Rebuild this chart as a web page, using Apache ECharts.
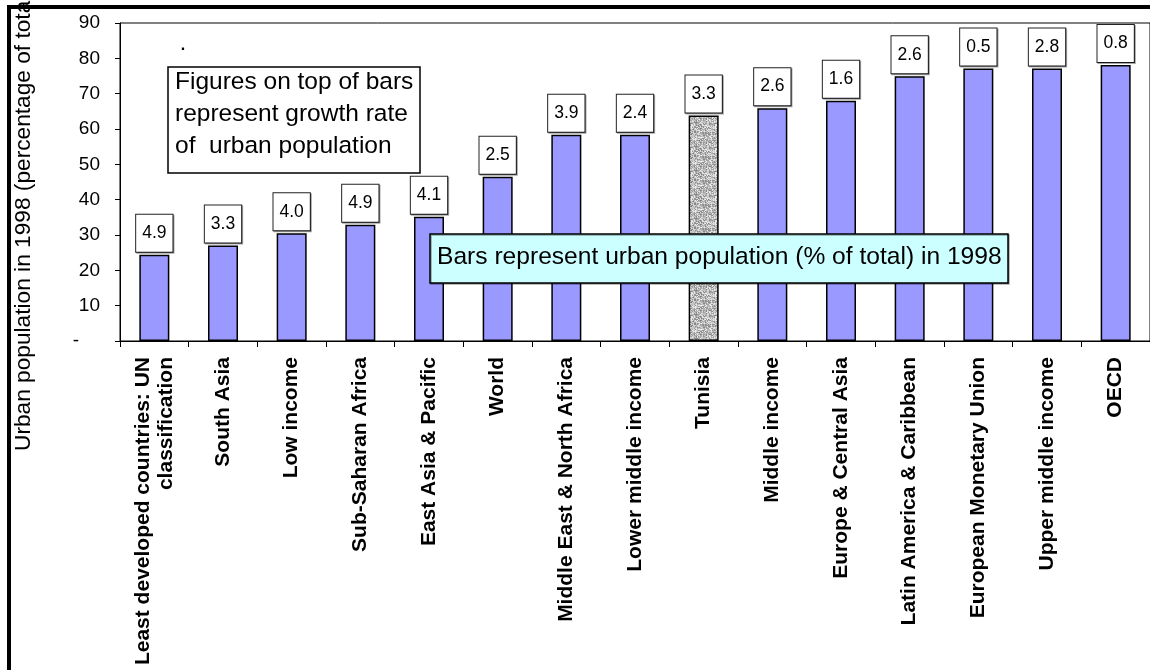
<!DOCTYPE html>
<html>
<head>
<meta charset="utf-8">
<script src="https://cdn.jsdelivr.net/npm/echarts@6/dist/echarts.min.js"></script>
<style>
html,body{margin:0;padding:0;background:#fff;}
#chart{width:1150px;height:670px;}
</style>
</head>
<body>
<div id="chart"></div>
<script>
var categories = [
  'Least developed countries: UN\nclassification',
  'South Asia',
  'Low income',
  'Sub-Saharan Africa',
  'East Asia & Pacific',
  'World',
  'Middle East & North Africa',
  'Lower middle income',
  'Tunisia',
  'Middle income',
  'Europe & Central Asia',
  'Latin America & Caribbean',
  'European Monetary Union',
  'Upper middle income',
  'OECD'
];
var urbanPct = [24.4, 27.0, 30.5, 32.9, 35.2, 46.5, 58.4, 58.4, 63.8, 65.9, 68.0, 74.9, 77.1, 77.1, 78.1];
var growthRate = [4.9, 3.3, 4.0, 4.9, 4.1, 2.5, 3.9, 2.4, 3.3, 2.6, 1.6, 2.6, 0.5, 2.8, 0.8];
var highlightCategory = 'Tunisia';
var yAxisTitle = 'Urban population in 1998 (percentage of total)';
var noteGrowth = 'Figures on top of bars\nrepresent growth rate\nof  urban population';
var noteBars = 'Bars represent urban population (% of total) in 1998';

// deterministic speckled gray texture for the highlighted bar
function makeTexture() {
  var c = document.createElement('canvas');
  c.width = 24; c.height = 24;
  var ctx = c.getContext('2d');
  for (var y = 0; y < 24; y++) {
    for (var x = 0; x < 24; x++) {
      var h = Math.sin(x * 12.9898 + y * 78.233) * 43758.5453;
      h = h - Math.floor(h);
      var g = Math.round(130 + h * 110);
      ctx.fillStyle = 'rgb(' + g + ',' + g + ',' + g + ')';
      ctx.fillRect(x, y, 1, 1);
    }
  }
  return c;
}
var texture = makeTexture();

var barData = urbanPct.map(function (v, i) {
  var item = { value: v };
  if (categories[i] === highlightCategory) {
    item.itemStyle = { color: { image: texture, repeat: 'repeat' } };
  }
  return item;
});

var chart = echarts.init(document.getElementById('chart'), null, { renderer: 'canvas' });
var option = {
  animation: false,
  backgroundColor: '#fff',
  grid: {
    left: 120, top: 23, right: -5, bottom: 329,
    show: true, borderColor: '#000', borderWidth: 1, backgroundColor: 'transparent'
  },
  xAxis: {
    type: 'category',
    data: categories,
    axisLine: { show: true, lineStyle: { color: '#000', width: 1 } },
    axisTick: { show: true, inside: false, length: 6, alignWithLabel: false, lineStyle: { color: '#000' } },
    axisLabel: {
      rotate: 90,
      interval: 0,
      margin: 16,
      color: '#000',
      fontFamily: 'Liberation Sans, Arial, sans-serif',
      fontWeight: 'bold',
      fontSize: 21,
      lineHeight: 23,
      align: 'right'
    },
    splitLine: { show: false }
  },
  yAxis: {
    type: 'value',
    min: 0, max: 90, interval: 10,
    axisLine: { show: true, lineStyle: { color: '#000', width: 1 } },
    axisTick: { show: true, length: 5, lineStyle: { color: '#000' } },
    splitLine: { show: false },
    axisLabel: {
      margin: 20,
      color: '#000',
      fontFamily: 'Liberation Sans, Arial, sans-serif',
      fontSize: 19,
      formatter: function (v) { return v === 0 ? '{d|-}' : String(v); },
      rich: { d: { fontSize: 19, padding: [0, 21, 0, 0], color: '#000' } }
    }
  },
  series: [{
    type: 'bar',
    data: barData,
    barWidth: 30,
    itemStyle: { color: '#9999FF', borderColor: '#000', borderWidth: 1.5 },
    label: {
      show: true,
      position: 'top',
      distance: 3,
      formatter: function (p) { return growthRate[p.dataIndex].toFixed(1); },
      color: '#000',
      fontFamily: 'Liberation Sans, Arial, sans-serif',
      fontSize: 17.5,
      lineHeight: 17,
      backgroundColor: '#fff',
      borderColor: '#222',
      borderWidth: 1,
      padding: [10, 6, 10, 6],
      shadowColor: 'rgba(0,0,0,0.35)',
      shadowOffsetX: 1,
      shadowOffsetY: 1,
      shadowBlur: 0
    },
    emphasis: { disabled: true }
  }],
  graphic: [
    {
      type: 'polyline', z: 200, silent: true,
      shape: { points: [[9, 672], [9, 7], [1152, 7]] },
      style: { stroke: '#000', lineWidth: 4, fill: null }
    },
    {
      type: 'text', z: 200, silent: true,
      x: 24, y: 451, rotation: Math.PI / 2,
      style: {
        text: yAxisTitle, fill: '#000',
        font: '22.7px "Liberation Sans", Arial, sans-serif',
        textAlign: 'left', textVerticalAlign: 'middle'
      }
    },
    {
      type: 'text', z: 200, silent: true,
      x: 183, y: 38,
      style: { text: '.', fill: '#000', font: 'bold 16px "Liberation Sans", Arial, sans-serif', textAlign: 'center' }
    },
    {
      type: 'rect', z: 190, silent: true,
      shape: { x: 168, y: 67, width: 252, height: 106 },
      style: { fill: '#fff', stroke: '#000', lineWidth: 1.5 }
    },
    {
      type: 'text', z: 195, silent: true,
      x: 175, y: 66,
      style: {
        text: noteGrowth, fill: '#000',
        font: '24.5px "Liberation Sans", Arial, sans-serif',
        lineHeight: 32, textAlign: 'left', textVerticalAlign: 'top'
      }
    },
    {
      type: 'rect', z: 190, silent: true,
      shape: { x: 430, y: 234, width: 578, height: 49 },
      style: { fill: '#CCFFFF', stroke: '#000', lineWidth: 1.5, shadowColor: 'rgba(0,0,0,0.35)', shadowOffsetX: 1, shadowOffsetY: 1 }
    },
    {
      type: 'text', z: 195, silent: true,
      x: 437, y: 257,
      style: {
        text: noteBars, fill: '#000',
        font: '24.6px "Liberation Sans", Arial, sans-serif',
        textAlign: 'left', textVerticalAlign: 'middle'
      }
    }
  ]
};
chart.setOption(option);
</script>
</body>
</html>
